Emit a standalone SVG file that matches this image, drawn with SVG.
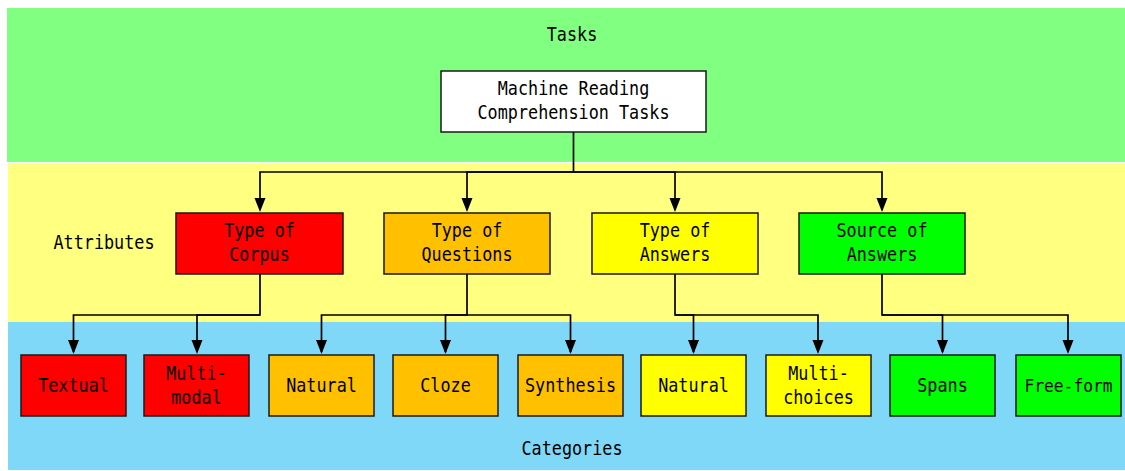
<svg xmlns="http://www.w3.org/2000/svg" width="1125" height="471" viewBox="0 0 1125 471">
<style>
.t{font-family:"DejaVu Sans Mono","Liberation Mono",monospace;font-size:19.5px;fill:#000;text-anchor:middle}
.b{stroke:#1a1a1a;stroke-width:1.5}
.c{fill:none;stroke:#000;stroke-width:1.7}
</style>
<rect x="0" y="0" width="1125" height="471" fill="#fff"/>
<rect x="7" y="8" width="1118" height="154" fill="#80FF80"/>
<rect x="8" y="163" width="1117" height="159" fill="#FFFF80"/>
<rect x="8" y="322" width="1117" height="148" fill="#80D8F8"/>
<text class="t" x="572" y="41" textLength="50.5" lengthAdjust="spacingAndGlyphs">Tasks</text>
<text class="t" x="104" y="249" textLength="101" lengthAdjust="spacingAndGlyphs">Attributes</text>
<text class="t" x="572" y="455" textLength="101" lengthAdjust="spacingAndGlyphs">Categories</text>
<g id="connectors">
<path class="c" d="M573.5,132 V172 H260 V210"/>
<path class="c" d="M573.5,172 H467 V210"/>
<path class="c" d="M573.5,172 H675 V210"/>
<path class="c" d="M573.5,172 H882 V210"/>
<path class="c" d="M260,274 V315 H73.5 V352"/>
<path class="c" d="M260,315 H197 V352"/>
<path class="c" d="M467,274 V315 H321.5 V352"/>
<path class="c" d="M467,315 H445.5 V352"/>
<path class="c" d="M467,315 H570.5 V352"/>
<path class="c" d="M675,274 V315 H693.5 V352"/>
<path class="c" d="M675,315 H818 V352"/>
<path class="c" d="M882,274 V315 H942.5 V352"/>
<path class="c" d="M882,315 H1068 V352"/>
<g fill="#000">
<path d="M254.5,198 H265.5 L260,212 Z"/>
<path d="M461.5,198 H472.5 L467,212 Z"/>
<path d="M669.5,198 H680.5 L675,212 Z"/>
<path d="M876.5,198 H887.5 L882,212 Z"/>
<path d="M68,340 H79 L73.5,354 Z"/>
<path d="M191.5,340 H202.5 L197,354 Z"/>
<path d="M316,340 H327 L321.5,354 Z"/>
<path d="M440,340 H451 L445.5,354 Z"/>
<path d="M565,340 H576 L570.5,354 Z"/>
<path d="M688,340 H699 L693.5,354 Z"/>
<path d="M812.5,340 H823.5 L818,354 Z"/>
<path d="M937,340 H948 L942.5,354 Z"/>
<path d="M1062.5,340 H1073.5 L1068,354 Z"/>
</g>
</g>
<g id="mrc">
<rect class="b" x="441" y="71" width="265" height="61" fill="#fff"/>
<text class="t" x="573.5" y="95" textLength="151.5" lengthAdjust="spacingAndGlyphs">Machine Reading</text>
<text class="t" x="573.5" y="119" textLength="192" lengthAdjust="spacingAndGlyphs">Comprehension Tasks</text>
</g>
<g id="corpus">
<rect class="b" x="176" y="213" width="167" height="61" fill="#FF0000"/>
<text class="t" x="259.5" y="237" textLength="70.7" lengthAdjust="spacingAndGlyphs">Type of</text>
<text class="t" x="259.5" y="261" textLength="60.6" lengthAdjust="spacingAndGlyphs">Corpus</text>
</g>
<g id="questions">
<rect class="b" x="384" y="213" width="166" height="61" fill="#FFC000"/>
<text class="t" x="467" y="237" textLength="70.7" lengthAdjust="spacingAndGlyphs">Type of</text>
<text class="t" x="467" y="261" textLength="91" lengthAdjust="spacingAndGlyphs">Questions</text>
</g>
<g id="answers">
<rect class="b" x="592" y="213" width="166" height="61" fill="#FFFF00"/>
<text class="t" x="675" y="237" textLength="70.7" lengthAdjust="spacingAndGlyphs">Type of</text>
<text class="t" x="675" y="261" textLength="70.7" lengthAdjust="spacingAndGlyphs">Answers</text>
</g>
<g id="source">
<rect class="b" x="799" y="213" width="166" height="61" fill="#00FF00"/>
<text class="t" x="882" y="237" textLength="91" lengthAdjust="spacingAndGlyphs">Source of</text>
<text class="t" x="882" y="261" textLength="70.7" lengthAdjust="spacingAndGlyphs">Answers</text>
</g>
<g id="textual">
<rect class="b" x="21" y="355" width="105" height="61" fill="#FF0000"/>
<text class="t" x="73.5" y="392" textLength="70.7" lengthAdjust="spacingAndGlyphs">Textual</text>
</g>
<g id="multimodal">
<rect class="b" x="144" y="355" width="105" height="61" fill="#FF0000"/>
<text class="t" x="196.5" y="380" textLength="60.6" lengthAdjust="spacingAndGlyphs">Multi-</text>
<text class="t" x="196.5" y="404" textLength="50.5" lengthAdjust="spacingAndGlyphs">modal</text>
</g>
<g id="natural-q">
<rect class="b" x="269" y="355" width="105" height="61" fill="#FFC000"/>
<text class="t" x="321.5" y="392" textLength="70.7" lengthAdjust="spacingAndGlyphs">Natural</text>
</g>
<g id="cloze">
<rect class="b" x="393" y="355" width="105" height="61" fill="#FFC000"/>
<text class="t" x="445.5" y="392" textLength="50.5" lengthAdjust="spacingAndGlyphs">Cloze</text>
</g>
<g id="synthesis">
<rect class="b" x="518" y="355" width="105" height="61" fill="#FFC000"/>
<text class="t" x="570.5" y="392" textLength="91" lengthAdjust="spacingAndGlyphs">Synthesis</text>
</g>
<g id="natural-a">
<rect class="b" x="641" y="355" width="105" height="61" fill="#FFFF00"/>
<text class="t" x="693.5" y="392" textLength="70.7" lengthAdjust="spacingAndGlyphs">Natural</text>
</g>
<g id="multichoices">
<rect class="b" x="766" y="355" width="105" height="61" fill="#FFFF00"/>
<text class="t" x="818.5" y="380" textLength="60.6" lengthAdjust="spacingAndGlyphs">Multi-</text>
<text class="t" x="818.5" y="404" textLength="70.7" lengthAdjust="spacingAndGlyphs">choices</text>
</g>
<g id="spans">
<rect class="b" x="890" y="355" width="105" height="61" fill="#00FF00"/>
<text class="t" x="942.5" y="392" textLength="50.5" lengthAdjust="spacingAndGlyphs">Spans</text>
</g>
<g id="freeform">
<rect class="b" x="1016" y="355" width="105" height="61" fill="#00FF00"/>
<text class="t" x="1068.5" y="391.5" style="font-size:18px" textLength="88" lengthAdjust="spacingAndGlyphs">Free-form</text>
</g>
</svg>
